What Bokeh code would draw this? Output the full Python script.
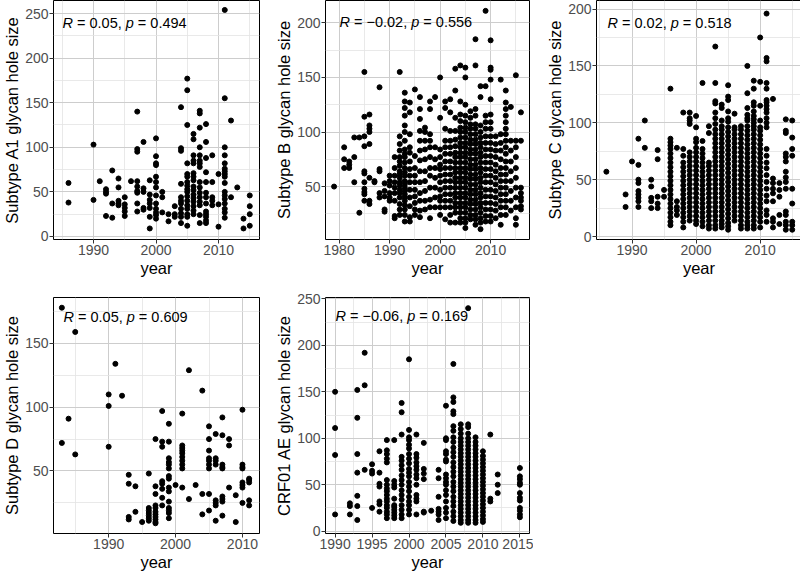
from bokeh.plotting import figure
from bokeh.models import Range1d, FixedTicker, Label
from bokeh.layouts import column, row
from bokeh.embed import file_html
from bokeh.resources import INLINE

# ---------------- data ----------------
a1_year = [1986, 1990, 1991, 1992, 1993, 1994, 1995, 1996, 1997, 1998, 1999, 2000, 2001,
           2002, 2003, 2004, 2005, 2006, 2007, 2008, 2009, 2010, 2011, 2012, 2013, 2014, 2015]
a1_size = [
    [60, 38], [103, 41], [62], [53, 50, 48, 23], [74, 37, 21], [65, 55, 40, 37, 35],
    [44, 36, 32, 28, 23], [62], [140, 98, 95, 62, 56, 51, 49, 37, 28], [106, 54, 50, 32, 30],
    [63, 47, 41, 37, 32, 22, 9], [110, 90, 82, 80, 67, 61, 55, 46, 37, 31, 27, 24, 20],
    [50, 44, 27], [25, 17], [34, 25, 22], [145, 99, 96, 59, 44, 40, 37, 31, 26, 22, 15],
    [177, 164, 125, 82, 70, 67, 61, 57, 53, 50, 45, 40, 35, 31, 25, 22, 12],
    [115, 109, 91, 85, 82, 71, 67, 63, 56, 52, 47, 43, 39, 34, 29, 25],
    [141, 138, 122, 100, 91, 85, 82, 78, 61, 55, 49, 44, 39, 35, 24, 15],
    [126, 106, 88, 72, 61, 49, 44, 37, 28, 25, 22, 18, 15], [91, 61, 44, 40, 35], [70, 36, 11],
    [254, 155, 100, 91, 82, 76, 73, 70, 67, 60, 50, 46, 42, 37, 31, 27, 21],
    [130, 44], [55], [20, 9], [46, 34, 25, 12],
]

b_year = [1979, 1981, 1982, 1983, 1984, 1985, 1986, 1987, 1988, 1989, 1990, 1991, 1992, 1993,
          1994, 1995, 1996, 1997, 1998, 1999, 2000, 2001, 2002, 2003, 2004, 2005, 2006, 2007,
          2008, 2009, 2010, 2011, 2012, 2013, 2014, 2015, 2016]
b_size = [
    [50], [86, 75, 67], [73, 70, 67], [95, 77, 54], [95, 26],
    [155, 114, 96, 87, 64, 62, 54, 48, 45, 43, 37],
    [116, 106, 103, 100, 89, 58, 37, 34], [55, 54], [141, 66, 64, 44, 40], [53, 46, 41, 29, 27],
    [60, 55, 51, 44, 40, 37], [77, 67, 60, 54, 49, 44, 37, 23, 21],
    [155, 96, 89, 83, 77, 73, 69, 64, 61, 58, 54, 51, 47, 44, 40, 34, 29, 24],
    [136, 128, 122, 115, 106, 100, 92, 84, 80, 77, 72, 67, 63, 60, 55, 52, 49, 46, 43, 40, 37,
     33, 29, 24, 18],
    [127, 118, 98, 86, 81, 73, 66, 60, 54, 47, 40, 32, 22, 18],
    [139, 78, 67, 60, 54, 47, 41, 35, 29, 24],
    [132, 121, 112, 101, 92, 83, 74, 64, 54, 44, 37, 28, 22],
    [104, 100, 92, 84, 75, 64, 55, 46, 37, 29],
    [128, 121, 98, 92, 86, 77, 67, 60, 49, 38, 31, 21],
    [132, 86, 75, 67, 58, 49, 40, 31],
    [150, 113, 84, 77, 70, 66, 60, 54, 47, 41, 37, 31, 24],
    [128, 122, 103, 92, 86, 80, 73, 67, 61, 55, 49, 43, 37, 31, 20],
    [130, 118, 101, 92, 86, 80, 73, 67, 61, 55, 49, 43, 37, 31, 24, 17],
    [158, 138, 113, 101, 93, 87, 81, 77, 72, 67, 63, 58, 54, 49, 44, 40, 35, 31, 26, 17],
    [161, 128, 116, 110, 104, 100, 95, 90, 86, 81, 77, 72, 67, 63, 58, 54, 49, 44, 40, 35, 31,
     26, 21, 17],
    [159, 150, 125, 115, 109, 104, 100, 95, 90, 86, 81, 77, 72, 67, 63, 58, 54, 49, 44, 40, 35,
     31, 26, 21, 17, 12],
    [119, 113, 107, 103, 98, 93, 89, 84, 80, 75, 70, 66, 61, 57, 52, 47, 43, 38, 34, 29, 24, 20],
    [185, 161, 121, 115, 107, 103, 98, 93, 89, 84, 80, 75, 70, 66, 61, 57, 52, 47, 43, 38, 34,
     29, 24, 20, 15],
    [142, 132, 106, 100, 95, 90, 86, 81, 77, 72, 67, 63, 58, 54, 49, 44, 40, 35, 31, 26, 21, 17,
     11],
    [211, 142, 115, 109, 103, 96, 90, 84, 78, 72, 66, 60, 54, 47, 41, 35, 29, 23, 18],
    [184, 159, 157, 148, 130, 116, 109, 103, 96, 90, 84, 78, 72, 66, 60, 54, 47, 41, 35, 29, 23,
     18],
    [96, 89, 83, 77, 70, 64, 58, 52, 46, 40, 34, 28, 21],
    [148, 98, 90, 83, 75, 67, 61, 55, 49, 43, 37, 31, 24, 15],
    [138, 127, 121, 115, 109, 103, 98, 92, 86, 80, 73, 67, 61, 55, 49, 43, 37, 31, 24],
    [123, 92, 83, 73, 64, 55, 46, 37, 28],
    [152, 92, 86, 77, 67, 58, 49, 40, 31, 21, 15],
    [118, 92, 49, 44, 40, 37, 32, 29],
]

c_year = [1986, 1989, 1990, 1991, 1992, 1993, 1994, 1995, 1996, 1997, 1998, 1999, 2000, 2001,
          2002, 2003, 2004, 2005, 2006, 2007, 2008, 2009, 2010, 2011, 2012, 2013, 2014, 2015]
c_size = [
    [57], [37, 26], [66], [86, 63, 50, 47, 40, 37, 34, 31, 26], [102, 78], [50, 44, 34, 31, 25],
    [76, 68, 35, 29, 25], [41, 35],
    [130, 86, 83, 80, 77, 73, 69, 65, 61, 57, 53, 49, 45, 41, 37, 33, 29, 25, 21, 17, 13, 10],
    [78, 31, 26, 23, 19],
    [109, 77, 71, 65, 61, 57, 53, 49, 45, 41, 37, 33, 29, 25, 21, 17, 13, 8],
    [109, 104, 102, 99, 74, 70, 66, 62, 58, 54, 50, 46, 42, 38, 34, 30, 26, 22, 18, 14],
    [106, 96, 86, 83, 78, 74, 70, 66, 62, 58, 54, 50, 46, 42, 38, 34, 30, 26, 22, 18, 14, 11],
    [135, 84, 77, 73, 69, 65, 61, 57, 53, 49, 45, 41, 37, 33, 29, 25, 21, 17, 13, 9],
    [97, 91, 65, 62, 58, 54, 50, 46, 42, 38, 34, 30, 26, 22, 18, 14, 10, 7],
    [167, 135, 119, 117, 109, 104, 99, 94, 90, 86, 82, 78, 74, 70, 66, 62, 58, 54, 50, 46, 42,
     38, 34, 30, 26, 22, 18, 14, 10, 7],
    [116, 113, 102, 97, 94, 90, 86, 82, 78, 74, 70, 66, 62, 58, 54, 50, 46, 42, 38, 34, 30, 26,
     22, 18, 14, 11, 8],
    [133, 123, 120, 110, 104, 101, 96, 92, 88, 84, 80, 76, 72, 68, 64, 60, 56, 52, 48, 44, 40,
     36, 32, 28, 24, 20, 16, 12, 9, 6],
    [108, 96, 94, 90, 86, 82, 78, 74, 70, 66, 62, 58, 54, 50, 46, 42, 38, 34, 30, 26, 22, 18, 14],
    [97, 94, 90, 86, 82, 78, 74, 70, 66, 62, 58, 54, 50, 46, 42, 38, 34, 30, 26, 22, 18, 14, 10,
     7],
    [150, 126, 113, 107, 104, 102, 97, 93, 89, 85, 81, 77, 73, 69, 65, 61, 57, 53, 49, 45, 41,
     37, 33, 29, 25, 21, 17, 13, 10, 7],
    [137, 130, 118, 115, 110, 106, 103, 100, 97, 94, 90, 86, 82, 78, 74, 70, 66, 62, 58, 54, 50,
     46, 42, 38, 34, 30, 26, 22, 18, 14, 10, 7],
    [175, 136, 115, 102, 96, 93, 89, 85, 81, 77, 73, 69, 65, 61, 57, 53, 49, 45, 41, 37, 33, 29,
     25, 21, 17, 13, 8],
    [196, 157, 154, 135, 130, 120, 118, 115, 112, 109, 104, 100, 96, 77, 71, 65, 60, 54, 48, 42,
     36, 31, 23, 19, 13],
    [121, 51, 47, 42, 38, 31, 16, 13, 8],
    [47, 41, 35, 19, 11],
    [103, 93, 91, 73, 70, 66, 57, 52, 48, 42, 22, 19, 13, 10, 6],
    [102, 87, 77, 71, 42, 29, 13, 10, 6],
]

d_year = [1983, 1984, 1985, 1990, 1991, 1992, 1993, 1994, 1995, 1996, 1997, 1998, 1999, 2000,
          2001, 2002, 2003, 2004, 2005, 2006, 2007, 2008, 2009, 2010, 2011]
d_size = [
    [178, 72], [91], [159, 63], [110, 101, 69], [134], [109], [47, 40, 14, 12], [38, 18], [10],
    [48, 21, 19, 17, 15, 13, 11], [75, 38, 32, 23, 21, 18, 16, 14, 12, 10, 9],
    [97, 73, 69, 42, 40, 36, 29, 23],
    [87, 73, 60, 57, 55, 52, 46, 44, 37, 34, 26, 21, 19, 17, 13],
    [39], [95, 70, 68, 66, 64, 61, 58, 55, 52, 37], [129, 28], [39], [113, 32, 16],
    [85, 75, 66, 60, 58, 55, 52, 32, 19], [79, 60, 58, 55, 27, 25, 23, 11],
    [92, 78, 55, 53, 52, 30, 28, 26, 15], [75, 70, 37], [31, 10],
    [98, 55, 53, 52, 41, 39, 37, 25], [44, 43, 41, 27, 23],
]

e_year = [1990, 1992, 1993, 1994, 1995, 1996, 1997, 1998, 1999, 2000, 2001, 2002, 2003, 2004,
          2005, 2006, 2007, 2008, 2009, 2010, 2011, 2012, 2015]
e_size = [
    [150, 111, 82, 18], [30, 27, 18], [152, 122, 83, 63, 38, 27, 12], [192, 157, 66],
    [72, 65, 62, 25], [86, 63, 51, 48, 32, 29, 21],
    [98, 87, 83, 78, 74, 55, 50, 46, 43, 39, 35, 32, 28, 25, 21, 18, 14],
    [98, 54, 50, 47, 35, 28, 26, 23, 20, 17, 14],
    [138, 128, 104, 80, 76, 71, 66, 60, 55, 50, 44, 39, 34, 28, 23, 18, 14],
    [185, 109, 101, 98, 93, 89, 83, 78, 73, 67, 63, 59, 53, 48, 43, 37, 32, 28, 23, 18],
    [104, 83, 79, 74, 70, 66, 61, 57, 50, 39, 35, 32, 18],
    [95, 67, 62, 56, 21, 20], [22], [66, 57, 37, 24, 21, 18, 12],
    [135, 100, 98, 86, 83, 77, 75, 61, 57, 53, 50, 44, 39, 32, 25, 20, 14],
    [180, 144, 139, 129, 126, 113, 108, 101, 96, 90, 85, 80, 74, 69, 64, 59, 53, 48, 43, 37, 32,
     27, 21, 16, 11],
    [115, 110, 105, 100, 96, 92, 88, 84, 80, 76, 72, 68, 64, 60, 56, 52, 48, 44, 40, 36, 32, 28,
     24, 20, 16, 12, 9],
    [240, 115, 112, 105, 100, 96, 92, 88, 84, 80, 76, 72, 68, 64, 60, 56, 52, 48, 44, 40, 36, 32,
     28, 24, 20, 16, 12, 9],
    [101, 96, 92, 88, 84, 80, 76, 72, 68, 64, 60, 56, 52, 48, 44, 40, 36, 32, 28, 24, 20, 16, 12,
     9],
    [86, 81, 77, 73, 69, 65, 61, 57, 53, 49, 45, 41, 37, 33, 29, 25, 21, 17, 13, 10],
    [104, 35, 32], [61, 50, 41],
    [68, 59, 56, 52, 50, 41, 36, 33, 25, 22, 18, 15],
]

y_titles = ["Subtype A1 glycan hole size", "Subtype B glycan hole size",
            "Subtype C glycan hole size", "Subtype D glycan hole size",
            "CRF01 AE glycan hole size"]
x_title = "year"
stat_r = ["0.05", "\u22120.02", "0.02", "0.05", "\u22120.06"]
stat_p = ["0.494", "0.556", "0.518", "0.609", "0.169"]

a1_xticks, a1_xminor = [1990, 2000, 2010], [1985, 1995, 2005, 2015]
a1_yticks, a1_yminor = [0, 50, 100, 150, 200, 250], [25, 75, 125, 175, 225]
b_xticks, b_xminor = [1980, 1990, 2000, 2010], [1985, 1995, 2005, 2015]
b_yticks, b_yminor = [50, 100, 150, 200], [25, 75, 125, 175]
c_xticks, c_xminor = [1990, 2000, 2010], [1985, 1995, 2005, 2015]
c_yticks, c_yminor = [0, 50, 100, 150, 200], [25, 75, 125, 175]
d_xticks, d_xminor = [1990, 2000, 2010], [1985, 1995, 2005]
d_yticks, d_yminor = [50, 100, 150], [25, 75, 125, 175]
e_xticks = [1990, 1995, 2000, 2005, 2010, 2015]
e_xminor = [1992.5, 1997.5, 2002.5, 2007.5, 2012.5]
e_yticks, e_yminor = [0, 50, 100, 150, 200, 250], [25, 75, 125, 175, 225]

FONT = "Liberation Sans"
CW = {' ': 0.278, '=': 0.584, '.': 0.278, ',': 0.278, '\u2212': 0.584, 'R': 0.722, 'p': 0.556}


def text_w(s):
    return sum(CW.get(ch, 0.556) for ch in s)


def panel(years, sizes, xr, yr, xt, xm, yt, ym, ytitle, r_txt, p_txt, dx, dy,
          fw, fh, mbl, mbr, mbt, mbb):
    xs, ys = [], []
    for yv, lst in zip(years, sizes):
        for s in lst:
            xs.append(yv)
            ys.append(s)
    p = figure(output_backend="svg", toolbar_location=None, frame_width=fw, frame_height=fh,
               min_border_left=mbl, min_border_right=mbr, min_border_top=mbt,
               min_border_bottom=mbb, x_range=Range1d(*xr), y_range=Range1d(*yr),
               background_fill_color="white", border_fill_color="white")
    p.scatter(xs, ys, size=5, color="black")
    p.xaxis.ticker = FixedTicker(ticks=xt, minor_ticks=xm)
    p.yaxis.ticker = FixedTicker(ticks=yt, minor_ticks=ym)
    for ax in (p.xaxis, p.yaxis):
        ax.axis_line_color = None
        ax.major_tick_line_color = "#333333"
        ax.major_tick_out = 4
        ax.major_tick_in = 0
        ax.minor_tick_line_color = None
        ax.major_label_text_font = FONT
        ax.major_label_text_font_size = "14px"
        ax.major_label_text_color = "#4D4D4D"
        ax.major_label_standoff = 1
        ax.axis_label_text_font = FONT
        ax.axis_label_text_font_size = "16.5px"
        ax.axis_label_text_font_style = "normal"
        ax.axis_label_text_color = "black"
        ax.axis_label_standoff = 1
    p.xaxis.axis_label = x_title
    p.yaxis.axis_label = ytitle
    for g in (p.xgrid, p.ygrid):
        g.grid_line_color = "#CDCDCD"
        g.grid_line_width = 1
        g.minor_grid_line_color = "#E3E3E3"
        g.minor_grid_line_width = 0.8
    p.outline_line_color = "black"
    p.outline_line_width = 1
    fs = 14.5
    parts = [("R", "italic"), ("= " + r_txt + ",", "normal"), ("p", "italic"),
             ("= " + p_txt, "normal")]
    off = 0.0
    for txt, style in parts:
        p.add_layout(Label(x=xr[0], y=yr[1], x_offset=dx + off * fs, y_offset=-dy, text=txt,
                           text_font=FONT, text_font_size=f"{fs}px", text_font_style=style,
                           text_color="black", text_align="left", text_baseline="middle"))
        off += text_w(txt) + text_w(" ")
    return p


pA = panel(a1_year, a1_size, (1983.6, 2016.56), (-3.4, 264.6), a1_xticks, a1_xminor,
           a1_yticks, a1_yminor, y_titles[0], stat_r[0], stat_p[0], 9, 22,
           206, 239, 50, 4, 0, 48)
pB = panel(b_year, b_size, (1977.3, 2017.7), (1.5, 220.5), b_xticks, b_xminor,
           b_yticks, b_yminor, y_titles[1], stat_r[1], stat_p[1], 14, 21,
           204, 239, 62, 4, 0, 48)
pC = panel(c_year, c_size, (1984.46, 2016.45), (-2.6, 207.5), c_xticks, c_xminor,
           c_yticks, c_yminor, y_titles[2], stat_r[2], stat_p[2], 11, 22,
           205, 239, 63, 0, 0, 48)
pD = panel(d_year, d_size, (1981.75, 2012.55), (1, 186), d_xticks, d_xminor,
           d_yticks, d_yminor, y_titles[3], stat_r[3], stat_p[3], 10, 19,
           206, 236, 50, 4, 10, 41)
pE = panel(e_year, e_size, (1988.7, 2016.3), (-2.5, 251.5), e_xticks, e_xminor,
           e_yticks, e_yminor, y_titles[4], stat_r[4], stat_p[4], 10, 18,
           204, 236, 62, 4, 10, 41)

layout = column(row(pA, pB, pC), row(pD, pE))
open("out.html", "w").write(file_html(layout, INLINE))
